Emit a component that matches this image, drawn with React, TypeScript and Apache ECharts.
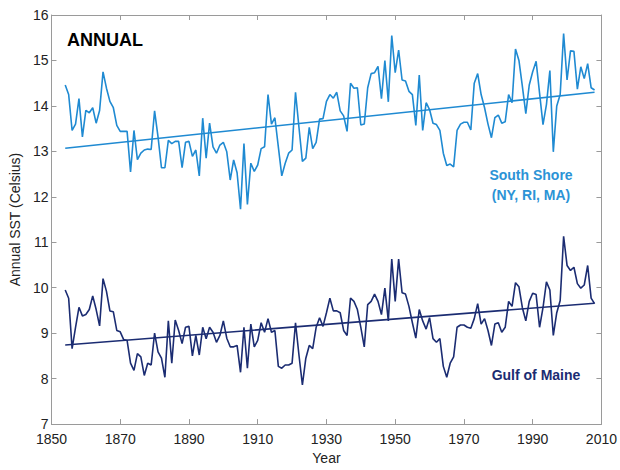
import React, { useEffect, useRef } from "react";
import * as echarts from "echarts";

const startYear = 1854;

const southShore = [
  14.46, 14.25, 13.46, 13.6, 14.16, 13.32, 13.9, 13.85, 13.96, 13.62,
  13.9, 14.75, 14.39, 14.1, 13.96, 13.57, 13.44, 13.44, 13.44, 12.55,
  13.46, 12.82, 12.96, 13.03, 13.05, 13.04, 13.89, 13.32, 12.64, 12.64,
  13.24, 13.17, 13.22, 13.22, 12.64, 13.2, 13.22, 12.89, 13.03, 12.46,
  13.73, 12.85, 13.62, 13.1, 12.96, 13.14, 13.2, 12.99, 12.37, 12.81,
  12.53, 11.73, 13.17, 11.83, 12.74, 12.56, 12.7, 13.06, 13.1, 14.25,
  13.6, 13.74, 13.1, 12.46, 12.74, 12.96, 13.03, 14.3, 13.53, 12.78,
  12.85, 13.53, 13.06, 13.2, 13.71, 13.72, 14.1, 14.25, 14.17, 14.3,
  13.89, 13.78, 13.44, 14.5, 14.39, 14.4, 13.58, 13.6, 14.4, 14.71,
  14.73, 14.87, 14.16, 15.0, 14.09, 15.55, 14.73, 15.23, 14.57, 14.55,
  14.32, 14.25, 13.57, 14.68, 13.46, 14.07, 13.92, 13.62, 13.59, 13.46,
  12.96, 12.69, 12.72, 12.66, 13.46, 13.6, 13.64, 13.64, 13.47, 14.5,
  14.71, 14.25, 13.96, 13.6, 13.3, 13.74, 13.8, 13.62, 13.65, 14.25,
  14.07, 15.25, 15.0, 14.43, 13.83, 14.46, 14.75, 14.98, 14.28, 13.59,
  14.03, 14.78, 12.99, 14.0, 14.25, 15.59, 14.57, 15.21, 15.2, 14.37,
  14.86, 14.6, 14.93, 14.4, 14.35,
];

const gulfOfMaine = [
  9.95, 9.77, 8.66, 9.13, 9.57, 9.38, 9.41, 9.52, 9.82, 9.52,
  9.16, 10.2, 9.92, 9.49, 9.47, 9.06, 9.03, 8.86, 8.84, 8.34,
  8.18, 8.55, 8.48, 8.07, 8.34, 8.3, 9.0, 8.59, 8.45, 8.03,
  9.27, 8.34, 9.29, 9.06, 8.77, 9.13, 9.15, 8.5, 8.95, 8.52,
  9.13, 8.88, 9.13, 9.02, 8.8, 8.95, 9.27, 8.89, 8.7, 8.7,
  8.73, 8.14, 9.13, 8.23, 9.2, 8.7, 8.84, 9.23, 9.02, 9.32,
  9.02, 9.06, 8.27, 8.23, 8.3, 8.3, 8.34, 9.23, 8.52, 7.86,
  8.45, 8.73, 8.66, 9.13, 9.34, 9.15, 9.45, 9.77, 9.49, 9.49,
  9.45, 9.06, 8.95, 9.77, 9.7, 9.52, 9.13, 8.7, 9.63, 9.7,
  9.86, 9.7, 9.41, 9.99, 9.27, 10.63, 9.7, 10.63, 9.89, 9.86,
  9.59, 9.23, 8.89, 9.52, 9.27, 9.09, 9.34, 8.88, 8.8, 8.88,
  8.27, 8.03, 8.34, 8.48, 9.13, 9.18, 9.18, 9.13, 9.11, 9.32,
  9.65, 9.2, 9.32, 9.06, 8.73, 9.2, 9.23, 9.02, 9.13, 9.7,
  9.59, 10.11, 10.02, 9.56, 9.27, 9.7, 9.88, 9.85, 9.13, 9.56,
  10.13, 9.95, 8.95, 9.45, 9.72, 11.13, 10.49, 10.38, 10.45, 10.09,
  9.99, 10.06, 10.49, 9.77, 9.65,
];

const trendYears = [1854, 2008];
const southShoreTrend = [13.07, 14.3];
const gulfTrend = [8.74, 9.66];

const xTicks = [1850, 1870, 1890, 1910, 1930, 1950, 1970, 1990, 2010];

const SOUTH_COLOR = "#1f8ad2";
const GULF_COLOR = "#1b2c72";
const FONT = "Liberation Sans, Arial, sans-serif";

export default function App() {
  const ref = useRef<HTMLDivElement>(null);

  useEffect(() => {
    if (!ref.current) return;
    const chart = echarts.init(ref.current, null, { renderer: "svg" });
    const pairs = (vals: number[]) => vals.map((v, i) => [startYear + i, v]);
    const trend = (vals: number[]) => trendYears.map((y, i) => [y, vals[i]]);

    const axisLine = { show: true, lineStyle: { color: "#9a9a9a", width: 1 } };
    const tick = { show: true, inside: true, length: 5, lineStyle: { color: "#9a9a9a" } };

    chart.setOption({
      animation: false,
      backgroundColor: "#ffffff",
      textStyle: { fontFamily: FONT },
      grid: { left: 46, right: 18, top: 15, bottom: 36, containLabel: false },
      xAxis: [
        {
          type: "value",
          min: xTicks[0],
          max: xTicks[xTicks.length - 1],
          interval: 20,
          name: "Year",
          nameLocation: "middle",
          nameGap: 22,
          nameTextStyle: { fontSize: 14, color: "#222", fontFamily: FONT },
          axisLine,
          axisTick: tick,
          splitLine: { show: false },
          axisLabel: {
            fontSize: 14,
            color: "#222",
            margin: 8,
            fontFamily: FONT,
            formatter: (v: number) => String(v),
          },
        },
        {
          type: "value",
          position: "top",
          min: xTicks[0],
          max: xTicks[xTicks.length - 1],
          interval: 20,
          axisLine,
          axisTick: tick,
          splitLine: { show: false },
          axisLabel: { show: false },
        },
      ],
      yAxis: [
        {
          type: "value",
          min: 7,
          max: 16,
          interval: 1,
          name: "Annual SST (Celsius)",
          nameLocation: "middle",
          nameGap: 28,
          nameTextStyle: { fontSize: 14, color: "#222", fontFamily: FONT },
          axisLine,
          axisTick: tick,
          splitLine: { show: false },
          axisLabel: {
            fontSize: 14,
            color: "#222",
            margin: 3,
            fontFamily: FONT,
          },
        },
        {
          type: "value",
          position: "right",
          min: 7,
          max: 16,
          interval: 1,
          axisLine,
          axisTick: tick,
          splitLine: { show: false },
          axisLabel: { show: false },
        },
      ],
      series: [
        {
          name: "South Shore",
          type: "line",
          data: pairs(southShore),
          showSymbol: false,
          lineStyle: { color: SOUTH_COLOR, width: 1.6 },
          z: 3,
        },
        {
          name: "South Shore trend",
          type: "line",
          data: trend(southShoreTrend),
          showSymbol: false,
          lineStyle: { color: SOUTH_COLOR, width: 1.6 },
          z: 4,
        },
        {
          name: "Gulf of Maine",
          type: "line",
          data: pairs(gulfOfMaine),
          showSymbol: false,
          lineStyle: { color: GULF_COLOR, width: 1.6 },
          z: 3,
        },
        {
          name: "Gulf of Maine trend",
          type: "line",
          data: trend(gulfTrend),
          showSymbol: false,
          lineStyle: { color: GULF_COLOR, width: 1.6 },
          z: 4,
        },
      ],
      graphic: [
        {
          type: "text",
          left: 67,
          top: 31,
          style: { text: "ANNUAL", font: `bold 18px ${FONT}`, fill: "#000" },
        },
        {
          type: "text",
          x: 531,
          y: 165,
          style: {
            text: "South Shore\n(NY, RI, MA)",
            font: `bold 14px ${FONT}`,
            fill: "#2b93d6",
            textAlign: "center",
            lineHeight: 20,
          },
        },
        {
          type: "text",
          x: 536,
          y: 368,
          style: {
            text: "Gulf of Maine",
            font: `bold 14px ${FONT}`,
            fill: GULF_COLOR,
            textAlign: "center",
          },
        },
      ],
    });
    return () => chart.dispose();
  }, []);

  return (
    <div
      ref={ref}
      style={{ position: "fixed", left: 0, top: 0, width: 620, height: 470 }}
    />
  );
}
